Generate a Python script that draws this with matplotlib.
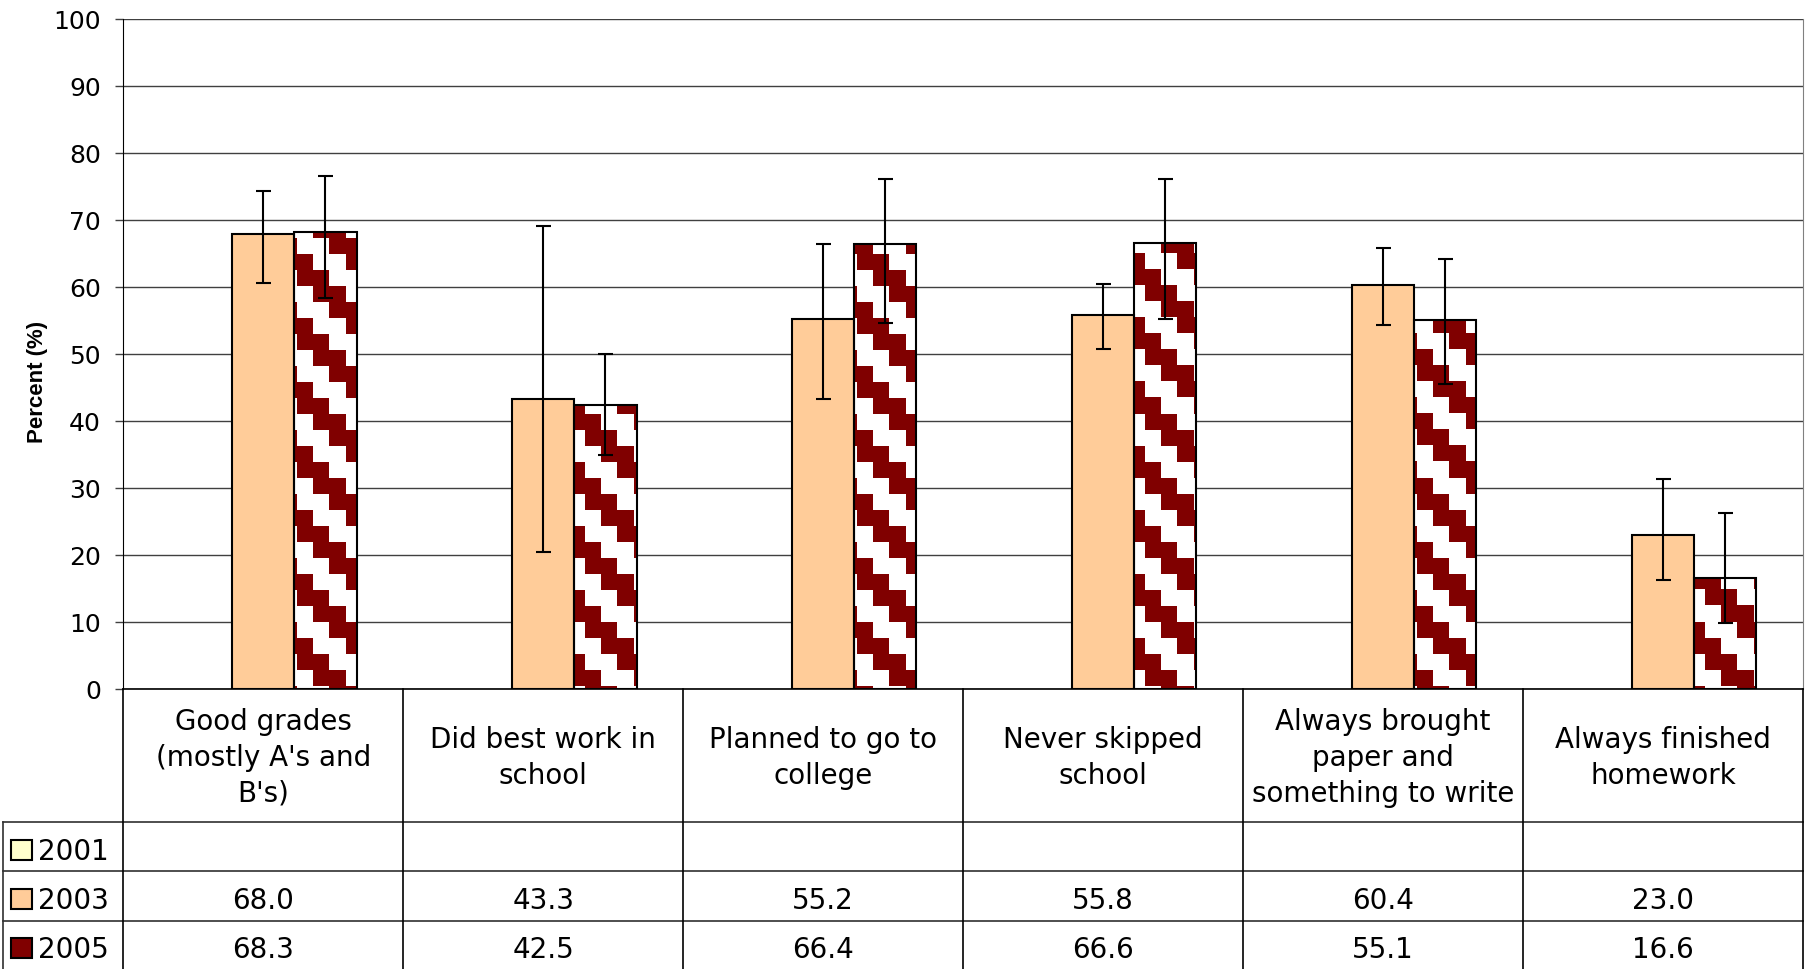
import matplotlib
matplotlib.use("Agg")
import matplotlib.pyplot as plt
from matplotlib.patches import Rectangle
import numpy as np

plt.rcParams["font.family"] = ["DejaVu Sans"]

# ---- data ----
categories = [
    "Good grades\n(mostly A's and\nB's)",
    "Did best work in\nschool",
    "Planned to go to\ncollege",
    "Never skipped\nschool",
    "Always brought\npaper and\nsomething to write",
    "Always finished\nhomework",
]
years = ["2001", "2003", "2005"]
values_2001 = [None, None, None, None, None, None]
values_2003 = [68.0, 43.3, 55.2, 55.8, 60.4, 23.0]
values_2005 = [68.3, 42.5, 66.4, 66.6, 55.1, 16.6]
ci_low_2003 = [60.6, 20.5, 43.3, 50.8, 54.3, 16.3]
ci_high_2003 = [74.4, 69.2, 66.4, 60.5, 65.9, 31.4]
ci_low_2005 = [58.4, 34.9, 54.7, 55.2, 45.5, 9.9]
ci_high_2005 = [76.6, 50.1, 76.2, 76.2, 64.2, 26.3]
y_ticks = list(range(0, 101, 10))

# ---- layout (pixels of a 1811x969 canvas) ----
W, H = 1811, 969
AX_L, AX_R, AX_T, AX_B = 123.3, 1803.0, 19.3, 689.3
TBL_L = 3.3
ROW_EDGES = [689.3, 822.3, 871.3, 920.7, 970.0]
FS_TICK = 18
FS_TBL = 20

C_2001 = "#FFFFCC"
C_2003 = "#FFCC99"
C_2005 = "#800000"

fig = plt.figure(figsize=(W / 100, H / 100), dpi=100, facecolor="white")
ax = fig.add_axes([AX_L / W, 1 - AX_B / H, (AX_R - AX_L) / W, (AX_B - AX_T) / H])

n = len(categories)
x = np.arange(n)
bw = 1 / 4.5
ax.set_xlim(-0.5, n - 0.5)
ax.set_ylim(0, 100)

# staircase pattern anchored to canvas pixels
pw, ph = int(round(AX_R - AX_L)), int(round(AX_B - AX_T))
px = AX_L + np.arange(pw) + 0.5
py = AX_T + np.arange(ph) + 0.5
cx = np.floor((px - 297.3) / 16).astype(int)
cy = np.floor((py - 270.0) / 16).astype(int)
phase = (cx[None, :] - cy[:, None]) % 4
pattern = np.ones((ph, pw, 3))
pattern[phase < 2] = np.array(matplotlib.colors.to_rgb(C_2005))

v03 = np.array(values_2003)
v05 = np.array(values_2005)

ax.bar(x, v03, width=bw, color=C_2003, edgecolor="black", linewidth=1.5, zorder=3)
bars05 = ax.bar(x + bw, v05, width=bw, color="white", edgecolor="none", zorder=2)
for b in bars05:
    im = ax.imshow(pattern, extent=(-0.5, n - 0.5, 0, 100), origin="upper",
                   interpolation="nearest", aspect="auto", zorder=2.5)
    im.set_clip_path(b)
ax.bar(x + bw, v05, width=bw, fill=False, edgecolor="black", linewidth=1.5, zorder=3)

err03 = [v03 - np.array(ci_low_2003), np.array(ci_high_2003) - v03]
err05 = [v05 - np.array(ci_low_2005), np.array(ci_high_2005) - v05]
for xs, vs, err in [(x, v03, err03), (x + bw, v05, err05)]:
    ax.errorbar(xs, vs, yerr=err, fmt="none", ecolor="black", elinewidth=1.5,
                capsize=5.4, capthick=1.5, zorder=4)

ax.set_yticks(y_ticks)
ax.set_yticklabels([str(t) for t in y_ticks], fontsize=FS_TICK)
ax.set_xticks([])
ax.tick_params(axis="y", direction="out", length=6, width=1, color="#404040", pad=10)
ax.yaxis.grid(True, color="#404040", linewidth=1)
ax.set_axisbelow(True)
ax.spines["top"].set_visible(False)
ax.spines["right"].set_color("#808080")
ax.spines["left"].set_color("black")
ax.spines["bottom"].set_color("black")
ax.spines["bottom"].set_linewidth(1.2)

fig.text(37 / W, 1 - 382 / H, "Percent (%)", rotation=90, fontsize=16,
         family=["Liberation Sans", "DejaVu Sans"], fontweight="bold",
         ha="center", va="center")

# ---- data table under the chart ----
unit = (AX_R - AX_L) / n
tx_left = -0.5 - (AX_L - TBL_L) / unit
tax = fig.add_axes([TBL_L / W, 0, (AX_R - TBL_L) / W, (H - AX_B) / H])
tax.set_xlim(tx_left, n - 0.5)
tax.set_ylim(H, AX_B)
tax.axis("off")

line_kw = dict(color="#303030", linewidth=1.2, clip_on=False)
for yy in ROW_EDGES[1:4]:
    tax.plot([tx_left, n - 0.5], [yy, yy], **line_kw)
tax.plot([tx_left, tx_left], [ROW_EDGES[1], H], **line_kw)
for xx in np.arange(-0.5, n, 1.0):
    tax.plot([xx, xx], [AX_B, H], color="black", linewidth=1.2, clip_on=False)

for i, label in enumerate(categories):
    tax.text(i, (ROW_EDGES[0] + ROW_EDGES[1]) / 2 + 2, label, ha="center", va="center",
             fontsize=FS_TBL, linespacing=1.35)

series = [values_2001, values_2003, values_2005]
swatch_colors = [C_2001, C_2003, C_2005]
for r, (yr, vals, col) in enumerate(zip(years, series, swatch_colors)):
    yc = (ROW_EDGES[r + 1] + ROW_EDGES[r + 2]) / 2
    tax.add_patch(Rectangle((tx_left + 8 / unit, yc - 7), 21 / unit, 20,
                            facecolor=col, edgecolor="black", linewidth=1.5))
    tax.text(tx_left + 35 / unit, yc + 5, yr, ha="left", va="center", fontsize=FS_TBL)
    for i, v in enumerate(vals):
        if v is not None:
            tax.text(i, yc + 5, f"{v:.1f}", ha="center", va="center", fontsize=FS_TBL)

fig.savefig("out.png", dpi=100, facecolor="white")
